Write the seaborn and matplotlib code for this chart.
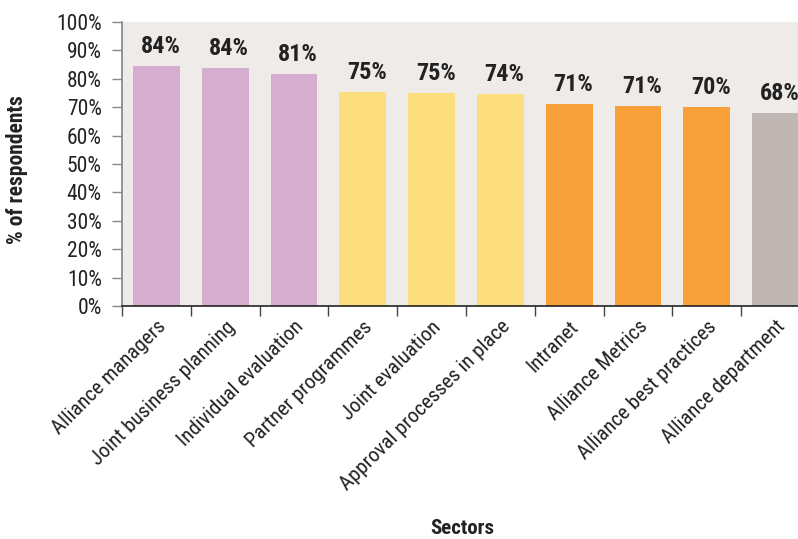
import numpy as np
import pandas as pd
import matplotlib.pyplot as plt
import seaborn as sns
from matplotlib.ticker import PercentFormatter, FixedLocator

sns.set_theme(style="white")
plt.rcParams["font.family"] = ["Roboto Condensed", "DejaVu Sans"]

# Data
sectors = ["Alliance managers", "Joint business planning", "Individual evaluation",
           "Partner programmes", "Joint evaluation", "Approval processes in place",
           "Intranet", "Alliance Metrics", "Alliance best practices", "Alliance department"]
values = [84.5, 83.8, 81.7, 75.4, 75.0, 74.6, 71.1, 70.4, 70.1, 68.0]
shown = [84, 84, 81, 75, 75, 74, 71, 71, 70, 68]
colors = ["#D4ADCF", "#D4ADCF", "#D4ADCF", "#FDDE7F", "#FDDE7F", "#FDDE7F",
          "#F8A03A", "#F8A03A", "#F8A03A", "#C0B7B4"]

df = pd.DataFrame({"Sector": sectors, "Value": values})

fig = plt.figure(figsize=(7.98, 5.39), dpi=100)
ax = fig.add_axes([122 / 798, 233 / 539, 688 / 798, 284 / 539])
sns.barplot(data=df, x="Sector", y="Value", hue="Sector", palette=colors,
            width=0.68, saturation=1, linewidth=0, legend=False, ax=ax)
ax.set_facecolor("#EFEBE8")

ax.set_xlim(-0.5, len(sectors) - 0.5)
ax.set_ylim(0, 100)
ax.set_yticks(np.arange(0, 101, 10))
ax.yaxis.set_major_formatter(PercentFormatter(decimals=0))
ax.tick_params(axis="y", labelsize=15.5, color="#888888", length=7, width=1,
               direction="out", left=True, pad=7.5, labelcolor="#222222")

# labels at bar centres, ticks at category boundaries
ax.set_xticks(range(len(sectors)))
ax.set_xticklabels(sectors, rotation=45, ha="right", va="top",
                   rotation_mode="anchor", fontsize=15, color="#222222")
ax.tick_params(axis="x", which="major", length=0, pad=8)
ax.xaxis.set_minor_locator(FixedLocator(np.arange(-0.5, len(sectors), 1.0)))
ax.tick_params(axis="x", which="minor", length=7, width=1, color="#444444",
               direction="out", bottom=True)

for side in ["top", "right"]:
    ax.spines[side].set_visible(False)
ax.spines["left"].set_color("#888888")
ax.spines["bottom"].set_color("#222222")
ax.spines["bottom"].set_linewidth(1.2)

for i, (v, s) in enumerate(zip(values, shown)):
    ax.annotate(f"{s}%", (i, v), xytext=(3, 9.5), textcoords="offset points",
                ha="center", va="baseline", fontsize=17.5, fontweight="bold",
                color="#222222")

ax.set_ylabel("% of respondents", fontsize=15.5, fontweight="bold", color="#222222")
ax.yaxis.set_label_coords(-0.137, 0.48)
ax.set_xlabel("Sectors", fontsize=15, fontweight="bold", color="#222222", va="center")
ax.xaxis.set_label_coords(0.494, -(529 - 306) / 284)

fig.savefig("out.png", dpi=100)
